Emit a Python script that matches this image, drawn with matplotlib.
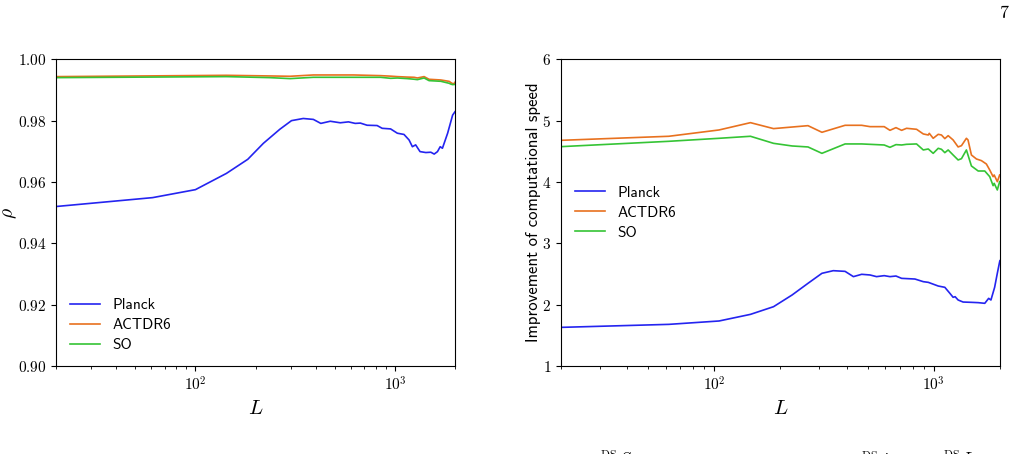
import numpy as np
import matplotlib
matplotlib.use('Agg')
import matplotlib.pyplot as plt

plt.rcParams['font.family'] = ['cmr10', 'DejaVu Serif']
plt.rcParams['mathtext.fontset'] = 'cm'
plt.rcParams['axes.formatter.use_mathtext'] = True

# --- correlation coefficient rho (left panel) ---
L_planck_rho = [20, 61, 100, 143, 183, 219, 265, 303, 347, 390, 425, 474, 532, 585,
                632, 671, 725, 814, 863, 951, 1028, 1110, 1177, 1223, 1270, 1336,
                1428, 1513, 1573, 1634, 1686, 1730, 1837, 1946, 2000]
rho_planck = [0.9520, 0.9549, 0.9575, 0.9628, 0.9674, 0.9726, 0.9772, 0.9800, 0.9807,
              0.9804, 0.9791, 0.9798, 0.9793, 0.9796, 0.9791, 0.9792, 0.9785, 0.9784,
              0.9775, 0.9773, 0.9759, 0.9755, 0.9737, 0.9715, 0.9721, 0.9699, 0.9696,
              0.9697, 0.9691, 0.9699, 0.9715, 0.9710, 0.9759, 0.9818, 0.9829]

L_act_rho = [20, 143, 236, 298, 390, 621, 847, 951, 1028, 1153, 1247, 1296, 1400,
             1483, 1698, 1870, 1908, 1946, 1989, 2000]
rho_act = [0.99435, 0.99478, 0.99457, 0.99446, 0.99489, 0.99489, 0.99467, 0.99450,
           0.99435, 0.99420, 0.99413, 0.99391, 0.99435, 0.99348, 0.99326, 0.99280,
           0.99239, 0.99207, 0.99215, 0.99250]

L_so_rho = [20, 143, 236, 298, 390, 621, 847, 951, 1028, 1153, 1247, 1296, 1400,
            1483, 1698, 1870, 1908, 1946, 1989, 2000]
rho_so = [0.99402, 0.99435, 0.99402, 0.99370, 0.99413, 0.99413, 0.99413, 0.99380,
          0.99390, 0.99370, 0.99350, 0.99337, 0.99391, 0.99304, 0.99283, 0.99217,
          0.99190, 0.99174, 0.99180, 0.99185]

# --- speed-up factor (right panel) ---
L_planck_sp = [20, 62, 105, 146, 186, 226, 267, 309, 348, 394, 430, 469, 512, 548,
               594, 631, 672, 713, 820, 895, 943, 1047, 1122, 1183, 1224, 1250, 1290,
               1359, 1483, 1592, 1706, 1777, 1820, 1892, 1946, 1994, 2000]
speed_planck = [1.630, 1.679, 1.734, 1.842, 1.967, 2.158, 2.348, 2.511, 2.554, 2.543,
                2.457, 2.495, 2.484, 2.457, 2.473, 2.457, 2.467, 2.429, 2.418, 2.375,
                2.364, 2.304, 2.283, 2.185, 2.120, 2.130, 2.076, 2.043, 2.038, 2.033,
                2.022, 2.103, 2.076, 2.283, 2.511, 2.700, 2.717]

L_act_sp = [20, 62, 105, 146, 186, 267, 309, 394, 469, 512, 594, 631, 672, 713, 751,
            806, 834, 895, 943, 953, 993, 1047, 1083, 1122, 1162, 1224, 1290, 1336,
            1407, 1431, 1483, 1563, 1647, 1735, 1797, 1862, 1883, 1946, 1994]
speed_act = [4.679, 4.745, 4.848, 4.967, 4.870, 4.918, 4.810, 4.924, 4.924, 4.902,
             4.902, 4.842, 4.886, 4.842, 4.875, 4.864, 4.859, 4.783, 4.766, 4.793,
             4.712, 4.777, 4.766, 4.707, 4.755, 4.685, 4.571, 4.592, 4.712, 4.685,
             4.440, 4.375, 4.348, 4.293, 4.196, 4.087, 4.114, 4.005, 4.114]

L_so_sp = [20, 62, 105, 146, 186, 226, 267, 309, 394, 469, 594, 631, 672, 713, 751,
           834, 895, 943, 993, 1047, 1083, 1122, 1162, 1224, 1290, 1336, 1407, 1483,
           1592, 1706, 1797, 1862, 1883, 1946, 1994]
speed_so = [4.576, 4.663, 4.712, 4.745, 4.630, 4.587, 4.571, 4.467, 4.620, 4.620,
            4.603, 4.565, 4.609, 4.603, 4.614, 4.620, 4.522, 4.538, 4.467, 4.549,
            4.533, 4.478, 4.522, 4.440, 4.359, 4.380, 4.522, 4.261, 4.179, 4.179,
            4.087, 3.940, 3.978, 3.870, 4.005]

labels = ['Planck', 'ACTDR6', 'SO']
colors = ['#2424f0', '#e8711f', '#35c435']

fig = plt.figure(figsize=(10.22, 4.54), dpi=100)
ax1 = fig.add_axes([0.0548, 0.1938, 0.3904, 0.6756])
ax2 = fig.add_axes([0.5489, 0.1938, 0.4295, 0.6756])

ax1.plot(L_planck_rho, rho_planck, color=colors[0], lw=1.2, label=labels[0])
ax1.plot(L_act_rho, rho_act, color=colors[1], lw=1.2, label=labels[1])
ax1.plot(L_so_rho, rho_so, color=colors[2], lw=1.2, label=labels[2])
ax1.set_ylim(0.90, 1.00)
ax1.set_yticks(np.arange(0.90, 1.001, 0.02))
ax1.set_ylabel(r'$\rho$', fontsize=14)
ax1.yaxis.set_label_coords(-0.093, 0.5)

ax2.plot(L_planck_sp, speed_planck, color=colors[0], lw=1.2, label=labels[0])
ax2.plot(L_act_sp, speed_act, color=colors[1], lw=1.2, label=labels[1])
ax2.plot(L_so_sp, speed_so, color=colors[2], lw=1.2, label=labels[2])
ax2.set_ylim(1, 6)
ax2.set_ylabel('Improvement of computational speed', family='cmss10', fontsize=12)
ax2.yaxis.set_label_coords(-0.046, 0.5)

for ax in (ax1, ax2):
    ax.set_xscale('log')
    ax.set_xlim(20, 2000)
    ax.set_xlabel(r'$L$', fontsize=15)
    ax.tick_params(labelsize=11)

ax1.legend(loc='lower left', frameon=False, prop={'family': 'cmss10', 'size': 11},
           labelspacing=0.4, bbox_to_anchor=(0.0, 0.0))
ax2.legend(loc='center left', frameon=False, prop={'family': 'cmss10', 'size': 11},
           labelspacing=0.4, bbox_to_anchor=(0.0, 0.5))

fig.text(0.983, 0.97, '7', fontsize=13, ha='center', va='center')

# fragments of the caption line cut by the bottom edge
fig.text(600 / 1022, 5 / 454, r'$^{\rm DS}\,S$', fontsize=12, va='top')
fig.text(858 / 1022, 5 / 454, r'$\tilde{}^{\rm DS}\,j$', fontsize=12, va='top')
fig.text(943 / 1022, 5 / 454, r'$^{\rm DS}\,L$', fontsize=12, va='top')

fig.savefig('out.png', dpi=100)
